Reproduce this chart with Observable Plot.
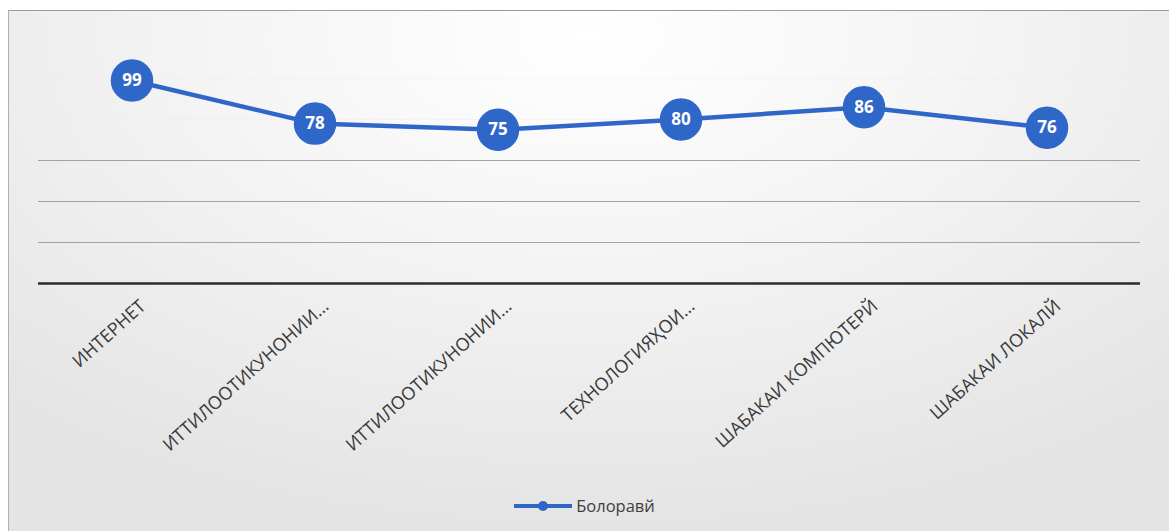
<!DOCTYPE html>
<html>
<head>
<meta charset="utf-8">
<script src="https://cdn.jsdelivr.net/npm/d3@7"></script>
<script src="https://cdn.jsdelivr.net/npm/@observablehq/plot@0.6"></script>
<style>
  html, body { margin: 0; padding: 0; background: #fff; }
  #wrap { position: relative; width: 1169px; height: 531px; overflow: hidden; font-family: "Open Sans", "Noto Sans", sans-serif; }
  #bg { position: absolute; left: 8px; top: 10px; right: 0; bottom: 0;
        border-top: 1.5px solid #9a9a9a; border-left: 1.5px solid #b0b0b0;
        background: radial-gradient(ellipse 75% 95% at 50% 5%, #ffffff 0%, #f4f4f4 45%, #e4e4e4 100%); }
  #chart { position: absolute; left: 0; top: 0; }
  #legend { position: absolute; left: 0; top: 480px; width: 1169px; height: 51px;
            display: flex; justify-content: center; align-items: center; }
  #legend .item { display: flex; align-items: center; font-size: 16.5px; color: #404040; margin-left: 4px; }
</style>
</head>
<body>
<div id="wrap">
  <div id="bg"></div>
  <div id="chart"></div>
  <div id="legend"></div>
</div>
<script>
const categories = ["ИНТЕРНЕТ", "ИТТИЛООТИКУНОНИИ...", "ИТТИЛООТИКУНОНИИ...", "ТЕХНОЛОГИЯҲОИ...", "ШАБАКАИ КОМПЮТЕРЙ", "ШАБАКАИ ЛОКАЛЙ"];
const values = [99, 78, 75, 80, 86, 76];
const seriesName = "Болоравй";
const yTicks = [0, 20, 40, 60, 80, 100];

const keys = categories.map((c, i) => i);
const data = keys.map(i => ({k: i, label: categories[i], v: values[i]}));
const blue = "#2f67c9";

const plot = Plot.plot({
  width: 1169,
  height: 480,
  marginLeft: 38,
  marginRight: 29,
  marginTop: 78,
  marginBottom: 197,
  style: {background: "transparent", fontFamily: "'Open Sans', 'Noto Sans', sans-serif"},
  x: {type: "band", domain: keys, padding: 0, label: null},
  y: {domain: [0, 100], label: null},
  marks: [
    Plot.gridY([80, 100], {stroke: "#e8e8e8", strokeOpacity: 0.3, strokeWidth: 1}),
    Plot.gridY([20, 40, 60], {stroke: "#8f8f8f", strokeOpacity: 0.8, strokeWidth: 1}),
    Plot.ruleY([0], {stroke: "#2b2b2b", strokeWidth: 2.5}),
    Plot.axisX({tickSize: 0, tickRotate: -42, tickFormat: i => categories[i], fontSize: 18, fill: "#3a3a3a", dx: 11, dy: 14, tickPadding: 6, label: null}),
    Plot.axisY(yTicks, {ticks: [], tickSize: 0, tickFormat: () => "", label: null}),
    Plot.line(data, {x: "k", y: "v", stroke: blue, strokeWidth: 4.5, curve: "linear"}),
    Plot.dot(data, {x: "k", y: "v", r: 20.5, fill: blue, stroke: blue}),
    Plot.text(data, {x: "k", y: "v", text: d => String(d.v), fill: "white", fontSize: 17, fontWeight: "bold"})
  ]
});
document.getElementById("chart").appendChild(plot);

const leg = document.getElementById("legend");
leg.innerHTML = `<svg width="58" height="12"><line x1="0" y1="6" x2="58" y2="6" stroke="${blue}" stroke-width="4"/><circle cx="29" cy="6" r="5" fill="${blue}"/></svg><span class="item">${seriesName}</span>`;
</script>
</body>
</html>
